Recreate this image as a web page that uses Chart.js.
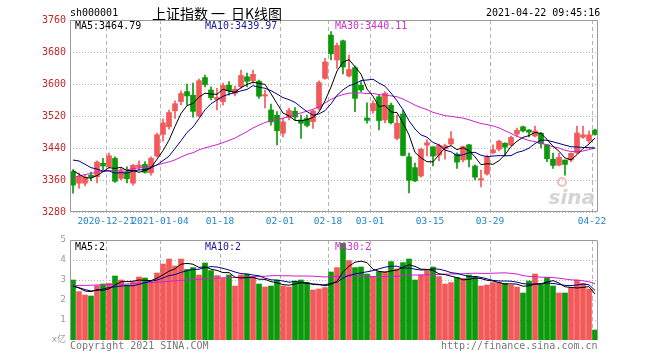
<!DOCTYPE html>
<html><head><meta charset="utf-8">
<script src="https://cdn.jsdelivr.net/npm/chart.js"></script>
<style>
html,body{margin:0;padding:0;background:#fff;width:660px;height:360px;overflow:hidden;}
body{position:relative;}
canvas{position:absolute;left:0;}
#c1{top:0;}
#c2{top:230px;}
.t{position:absolute;white-space:nowrap;font-family:"DejaVu Sans Mono",monospace;font-size:10px;line-height:12px;color:#000;z-index:5;}
.h{font-family:'Noto Sans CJK SC',sans-serif;font-size:14px;line-height:18px;top:4px;}
</style></head><body>
<canvas id="c1" width="660" height="230"></canvas>
<canvas id="c2" width="660" height="130"></canvas>
<div class="t" style="left:70px;top:7px;">sh000001</div>
<div class="t h" style="left:152px;">上证指数</div>
<div class="t h" style="left:211px;">一</div>
<div class="t h" style="left:231px;">日K线图</div>
<div class="t" style="left:486px;top:7px;">2021-04-22 09:45:16</div>
<div class="t" style="left:75px;top:20px;">MA5:3464.79</div>
<div class="t" style="left:205px;top:20px;color:#1a1a9a;">MA10:3439.97</div>
<div class="t" style="left:335px;top:20px;color:#cc33cc;">MA30:3440.11</div>
<div class="t" style="left:75px;top:241px;">MA5:2</div>
<div class="t" style="left:205px;top:241px;color:#1a1a9a;">MA10:2</div>
<div class="t" style="left:335px;top:241px;color:#cc33cc;">MA30:2</div>
<div class="t" style="left:70px;top:340px;color:#777;">Copyright 2021 SINA.COM</div>
<div class="t" style="left:441px;top:340px;color:#777;">http://finance.sina.com.cn</div>
<script>
const dates = ['2020-12-11','2020-12-14','2020-12-15','2020-12-16','2020-12-17','2020-12-18','2020-12-21','2020-12-22','2020-12-23','2020-12-24','2020-12-25','2020-12-28','2020-12-29','2020-12-30','2020-12-31',
'2021-01-04','2021-01-05','2021-01-06','2021-01-07','2021-01-08','2021-01-11','2021-01-12','2021-01-13','2021-01-14','2021-01-15','2021-01-18','2021-01-19','2021-01-20','2021-01-21','2021-01-22','2021-01-25','2021-01-26','2021-01-27','2021-01-28','2021-01-29',
'2021-02-01','2021-02-02','2021-02-03','2021-02-04','2021-02-05','2021-02-08','2021-02-09','2021-02-10','2021-02-18','2021-02-19','2021-02-22','2021-02-23','2021-02-24','2021-02-25','2021-02-26',
'2021-03-01','2021-03-02','2021-03-03','2021-03-04','2021-03-05','2021-03-08','2021-03-09','2021-03-10','2021-03-11','2021-03-12','2021-03-15','2021-03-16','2021-03-17','2021-03-18','2021-03-19','2021-03-22','2021-03-23','2021-03-24','2021-03-25','2021-03-26','2021-03-29','2021-03-30','2021-03-31',
'2021-04-01','2021-04-02','2021-04-06','2021-04-07','2021-04-08','2021-04-09','2021-04-12','2021-04-13','2021-04-14','2021-04-15','2021-04-16','2021-04-19','2021-04-20','2021-04-21','2021-04-22'];

const open = [3381,3352,3352,3372,3368,3402,3393,3414,3364,3381,
3352,3392,3399,3378,3420,3474,3493,3533,3556,3581,
3572,3520,3616,3585,3561,3556,3597,3577,3593,3618,
3608,3607,3570,3535,3522,3477,3517,3532,3510,3514,
3506,3539,3614,3722,3660,3708,3620,3641,3597,3515,
3533,3568,3510,3547,3464,3525,3418,3391,3370,3447,
3443,3422,3438,3450,3425,3410,3448,3395,3360,3375,
3428,3437,3452,3447,3475,3493,3485,3470,3477,3448,
3412,3397,3410,3410,3428,3467,3458,3485];
const high = [3386,3378,3372,3380,3408,3414,3427,3418,3389,3393,
3399,3408,3406,3418,3477,3512,3535,3558,3583,3600,
3602,3612,3622,3593,3589,3602,3606,3595,3635,3627,
3635,3610,3585,3550,3531,3514,3539,3541,3522,3522,
3535,3608,3664,3731,3702,3710,3672,3645,3606,3553,
3558,3572,3581,3552,3522,3535,3427,3402,3440,3461,
3443,3450,3450,3481,3428,3445,3449,3398,3385,3422,
3448,3460,3453,3470,3490,3495,3486,3495,3479,3448,
3427,3427,3410,3428,3495,3495,3482,3487];
const low = [3327,3339,3345,3358,3353,3385,3390,3354,3360,3353,
3347,3385,3377,3372,3418,3457,3487,3514,3548,3547,
3517,3518,3593,3560,3535,3547,3572,3570,3589,3593,
3602,3564,3540,3497,3448,3468,3510,3510,3464,3493,
3489,3535,3612,3660,3639,3625,3618,3531,3581,3502,
3527,3485,3503,3500,3460,3420,3328,3356,3367,3420,
3395,3408,3412,3447,3389,3405,3393,3360,3343,3372,
3425,3433,3420,3445,3468,3480,3468,3468,3440,3406,
3389,3395,3372,3406,3426,3464,3452,3472];
const close = [3347.19,3369.12,3367.23,3366.98,3404.87,3394.90,3420.57,3356.78,3382.32,3363.11,
3396.56,3397.29,3379.04,3414.45,3473.07,3502.96,3528.68,3550.88,3576.20,3570.11,
3531.50,3608.34,3598.65,3565.90,3566.38,3596.22,3583.09,3587.00,3621.26,3606.75,
3624.24,3569.43,3573.34,3505.18,3483.07,3505.31,3533.68,3517.31,3501.86,3496.33,
3532.44,3603.49,3655.09,3675.36,3696.17,3642.44,3636.36,3564.08,3585.05,3509.08,
3551.40,3508.59,3576.90,3503.49,3501.99,3421.41,3359.29,3357.74,3436.83,3453.08,
3419.95,3446.73,3445.55,3463.07,3404.66,3443.44,3411.51,3367.06,3363.59,3418.33,
3435.30,3457.07,3441.91,3466.33,3484.39,3482.56,3479.63,3482.48,3450.68,3412.95,
3396.47,3416.75,3398.99,3426.62,3477.55,3472.94,3472.93,3473.91];
const ma5 = [3383.8,3374.3,3365.8,3364.8,3371.1,3380.6,3390.9,3388.8,3391.9,3383.5,
3383.9,3379.2,3383.7,3390.1,3412.1,3433.4,3459.6,3494.0,3526.4,3545.8,
3551.5,3567.4,3577.0,3574.9,3574.2,3587.1,3582.0,3579.7,3590.8,3598.9,
3604.5,3601.7,3599.0,3575.8,3551.1,3527.3,3520.1,3508.9,3508.2,3510.9,
3516.3,3530.3,3557.8,3592.5,3632.5,3654.5,3661.1,3642.9,3624.8,3587.4,
3569.2,3543.6,3546.2,3529.9,3528.5,3502.5,3472.6,3428.8,3415.5,3405.7,
3405.4,3422.9,3440.4,3445.7,3436.0,3440.7,3433.6,3417.9,3398.1,3400.8,
3399.2,3408.3,3423.2,3443.8,3457.0,3466.5,3471.0,3479.1,3475.9,3461.7,
3444.4,3431.9,3415.2,3410.4,3423.3,3438.6,3449.8,3464.8];
const ma10 = [3409.9,3407.6,3399.2,3390.9,3387.2,3382.2,3382.6,3377.3,3378.3,3377.3,
3382.2,3385.1,3386.2,3391.0,3397.8,3408.6,3419.4,3438.8,3458.2,3478.9,
3492.4,3513.5,3535.5,3550.6,3560.0,3569.3,3574.7,3578.3,3582.8,3586.5,
3595.8,3591.9,3589.4,3583.3,3575.0,3565.9,3560.9,3554.0,3542.0,3531.0,
3521.8,3525.2,3533.4,3550.4,3571.7,3585.4,3595.7,3600.4,3608.7,3610.0,
3611.9,3602.4,3594.5,3577.4,3557.9,3535.8,3508.1,3487.5,3472.7,3467.1,
3453.9,3447.7,3434.6,3430.6,3420.8,3423.0,3428.3,3429.2,3421.9,3418.4,
3419.9,3421.0,3420.6,3420.9,3428.9,3432.8,3439.6,3451.2,3459.9,3459.3,
3455.4,3451.4,3447.1,3443.2,3442.5,3441.5,3440.8,3440.0];
const ma30 = [3365.4,3370.2,3373.4,3376.4,3379.2,3382.0,3383.5,3383.4,3384.8,3385.6,
3388.5,3390.1,3391.5,3393.7,3397.4,3401.5,3405.3,3410.3,3417.4,3424.1,
3428.2,3435.4,3440.3,3444.2,3448.3,3453.4,3458.9,3464.8,3473.1,3480.9,
3490.1,3496.8,3503.7,3508.3,3510.9,3514.6,3518.4,3523.7,3527.7,3532.1,
3536.7,3543.5,3552.7,3561.4,3568.9,3573.5,3577.1,3577.6,3577.8,3575.8,
3576.5,3573.2,3572.4,3570.3,3568.2,3562.4,3554.9,3547.3,3541.1,3536.0,
3529.2,3525.1,3520.8,3519.4,3516.8,3514.8,3510.7,3505.7,3501.1,3498.5,
3495.2,3490.4,3483.2,3476.3,3469.2,3463.9,3458.7,3455.9,3451.5,3448.3,
3443.1,3440.0,3434.1,3431.5,3430.7,3432.4,3436.2,3440.1];

const vol = [3.0,2.42,2.25,2.2,2.72,2.8,2.83,3.2,3.0,2.75,
2.92,3.15,3.1,2.92,3.35,3.8,4.05,3.7,4.05,3.53,
3.62,3.25,3.85,3.47,3.22,3.08,3.25,2.7,3.25,3.3,
3.17,2.8,2.65,2.7,3.0,2.7,2.65,2.95,3.0,2.88,
2.5,2.55,2.62,3.4,3.62,4.83,3.97,3.62,3.65,3.3,
3.17,3.42,3.42,3.92,3.55,3.87,4.05,3.0,3.25,3.47,
3.65,3.17,2.8,2.87,3.13,3.08,3.25,3.17,2.7,2.75,
2.87,2.87,2.83,2.75,2.65,2.35,2.95,3.3,2.78,3.12,
2.7,2.35,2.35,2.62,3.0,2.83,2.55,0.5];
const volMa5 = [2.7,2.6,2.45,2.42,2.52,2.48,2.56,2.75,2.91,2.92,
2.94,3.00,2.98,2.97,3.09,3.26,3.44,3.56,3.79,3.83,
3.79,3.63,3.66,3.54,3.48,3.37,3.37,3.14,3.10,3.12,
3.13,3.04,3.03,2.92,2.86,2.77,2.74,2.80,2.86,2.84,
2.80,2.78,2.71,2.79,2.94,3.40,3.69,3.89,3.94,3.87,
3.54,3.43,3.39,3.45,3.50,3.64,3.76,3.68,3.54,3.53,
3.48,3.31,3.27,3.19,3.12,3.01,3.03,3.10,3.07,2.99,
2.95,2.87,2.80,2.81,2.79,2.69,2.71,2.80,2.81,2.90,
2.97,2.85,2.66,2.63,2.60,2.63,2.67,2.30];
const volMa10 = [2.7,2.62,2.52,2.45,2.48,2.55,2.62,2.66,2.7,2.72,
2.71,2.78,2.87,2.94,3.00,3.10,3.22,3.27,3.38,3.46,
3.53,3.54,3.61,3.67,3.65,3.58,3.50,3.40,3.32,3.30,
3.25,3.21,3.09,3.01,2.99,2.95,2.89,2.92,2.89,2.85,
2.78,2.76,2.76,2.83,2.89,3.10,3.23,3.30,3.36,3.41,
3.47,3.56,3.64,3.69,3.69,3.59,3.60,3.54,3.50,3.51,
3.56,3.54,3.47,3.37,3.33,3.25,3.17,3.18,3.13,3.06,
2.98,2.95,2.95,2.94,2.89,2.82,2.79,2.80,2.81,2.85,
2.83,2.78,2.73,2.72,2.75,2.80,2.76,2.48];
const volMa30 = [2.72,2.73,2.73,2.74,2.75,2.76,2.77,2.78,2.79,2.80,
2.82,2.83,2.85,2.87,2.89,2.91,2.94,2.96,2.98,3.00,
3.02,3.04,3.06,3.08,3.10,3.11,3.12,3.13,3.14,3.16,
3.16,3.18,3.19,3.21,3.22,3.21,3.21,3.20,3.20,3.20,
3.19,3.17,3.15,3.17,3.18,3.21,3.21,3.21,3.19,3.19,
3.17,3.18,3.16,3.18,3.19,3.21,3.24,3.25,3.25,3.26,
3.27,3.28,3.29,3.30,3.30,3.31,3.33,3.34,3.33,3.33,
3.34,3.35,3.36,3.33,3.30,3.22,3.18,3.17,3.14,3.14,
3.12,3.09,3.05,3.01,2.99,2.96,2.91,2.82];

const axisDates = ['2020-12-21','2021-01-04','2021-01-18','2021-02-01','2021-02-18','2021-03-01','2021-03-15','2021-03-29','2021-04-22'];
const axisTexts = ['2020-12-21','2021-01-04','01-18','02-01','02-18','03-01','03-15','03-29','04-22'];
const priceTicks = [3280,3360,3440,3520,3600,3680,3760];
const volTicks = [0,1,2,3,4,5];

const UP = '#f25a5a', DOWN = '#0c990c';
const MONO = '"DejaVu Sans Mono", monospace';
const idx = dates.map((d, i) => i);
const tickIdx = axisDates.map(d => dates.indexOf(d));
const colors = idx.map(i => close[i] >= open[i] ? UP : DOWN);
const pts = arr => idx.map(i => ({x: i, y: arr[i]}));

const panel = {
  id: 'panel',
  beforeDatasetsDraw(chart, args, o) {
    const {ctx, chartArea: a, scales} = chart;
    ctx.save();
    ctx.lineWidth = 1;
    ctx.strokeStyle = '#b4b4b4';
    ctx.setLineDash([1, 2]);
    o.hLines.forEach(v => {
      const y = Math.round(scales.y.getPixelForValue(v)) + 0.5;
      ctx.beginPath(); ctx.moveTo(a.left, y); ctx.lineTo(a.right, y); ctx.stroke();
    });
    ctx.setLineDash([4, 3]);
    tickIdx.forEach(i => {
      const x = Math.round(scales.x.getPixelForValue(i - 0.5)) + 0.5;
      ctx.beginPath(); ctx.moveTo(x, a.top); ctx.lineTo(x, a.bottom); ctx.stroke();
    });
    ctx.setLineDash([]);
    if (o.logo) {
      ctx.fillStyle = 'rgba(205,205,205,0.85)';
      ctx.font = 'italic bold 20px "DejaVu Sans", sans-serif';
      ctx.textAlign = 'right';
      ctx.textBaseline = 'alphabetic';
      ctx.fillText('sina', a.right - 3, a.bottom - 8);
      ctx.strokeStyle = 'rgba(240,170,170,0.8)';
      ctx.lineWidth = 2;
      ctx.beginPath(); ctx.arc(a.right - 36, a.bottom - 30, 4, 0, Math.PI * 2); ctx.stroke();
    }
    ctx.restore();
  },
  afterDraw(chart, args, o) {
    const {ctx, chartArea: a} = chart;
    ctx.save();
    ctx.strokeStyle = '#9a9a9a';
    ctx.lineWidth = 1;
    const L = Math.round(a.left) + 0.5, R = Math.round(a.right) - 0.5, T = Math.round(a.top) + 0.5, B = Math.round(a.bottom) - 0.5;
    ctx.beginPath();
    ctx.moveTo(L, B); ctx.lineTo(L, T); ctx.lineTo(R, T); ctx.lineTo(R, B);
    if (o.bottom) ctx.lineTo(L, B);
    ctx.stroke();
    ctx.restore();
  }
};

const lineDs = (arr, color) => ({type: 'line', data: pts(arr), borderColor: color, borderWidth: 1, pointRadius: 0, tension: 0, order: 0});

new Chart(document.getElementById('c1'), {
  type: 'bar',
  data: {datasets: [
    lineDs(ma5, '#000000'),
    lineDs(ma10, '#000088'),
    lineDs(ma30, '#d020d0'),
    {type: 'bar', data: idx.map(i => ({x: i, y: [open[i], close[i]]})), backgroundColor: colors, barThickness: 5, grouped: false, order: 1},
    {type: 'bar', data: idx.map(i => ({x: i, y: [low[i], high[i]]})), backgroundColor: colors, barThickness: 1, grouped: false, order: 2}
  ]},
  options: {
    responsive: false, animation: false, events: [],
    layout: {padding: {left: 0, right: 62, top: 20, bottom: 0}},
    plugins: {legend: {display: false}, tooltip: {enabled: false}, panel: {hLines: priceTicks, bottom: true, logo: true}},
    scales: {
      x: {type: 'linear', min: -0.5, max: 87.5, offset: false,
        grid: {display: false, drawTicks: false}, border: {display: false},
        afterBuildTicks: s => { s.ticks = tickIdx.map(i => ({value: i - 0.5})); },
        afterFit: s => { s.height = 18; },
        ticks: {autoSkip: false, maxRotation: 0, minRotation: 0, padding: 4, color: '#2585c4',
          font: {family: MONO, size: 9.5},
          callback: v => { const k = tickIdx.indexOf(Math.round(v + 0.5)); return k >= 0 ? axisTexts[k] : ''; }}
      },
      y: {min: 3280, max: 3760,
        grid: {display: false, drawTicks: false}, border: {display: false},
        afterBuildTicks: s => { s.ticks = priceTicks.map(v => ({value: v})); },
        afterFit: s => { s.width = 70; },
        ticks: {padding: 4, color: '#c02828', font: {family: MONO, size: 10}, callback: v => String(v)}
      }
    }
  },
  plugins: [panel]
});

new Chart(document.getElementById('c2'), {
  type: 'bar',
  data: {datasets: [
    lineDs(volMa5, '#000000'),
    lineDs(volMa10, '#000088'),
    lineDs(volMa30, '#d020d0'),
    {type: 'bar', data: pts(vol), backgroundColor: colors, barThickness: 5, grouped: false, order: 1}
  ]},
  options: {
    responsive: false, animation: false, events: [],
    layout: {padding: {left: 0, right: 62, top: 10, bottom: 20}},
    plugins: {legend: {display: false}, tooltip: {enabled: false}, panel: {hLines: [1, 2, 3, 4], bottom: false, logo: false}},
    scales: {
      x: {type: 'linear', min: -0.5, max: 87.5, offset: false,
        grid: {display: false, drawTicks: false}, border: {display: false},
        afterBuildTicks: s => { s.ticks = tickIdx.map(i => ({value: i - 0.5})); },
        afterFit: s => { s.height = 0; },
        ticks: {display: false}
      },
      y: {min: 0, max: 5,
        grid: {display: false, drawTicks: false}, border: {display: false},
        afterBuildTicks: s => { s.ticks = volTicks.map(v => ({value: v})); },
        afterFit: s => { s.width = 70; },
        ticks: {padding: 4, color: '#9a9a9a', font: {family: '"DejaVu Sans", "Noto Sans CJK SC", sans-serif', size: 9},
          callback: v => v === 0 ? 'x亿' : String(v)}
      }
    }
  },
  plugins: [panel]
});
</script>
</body></html>
